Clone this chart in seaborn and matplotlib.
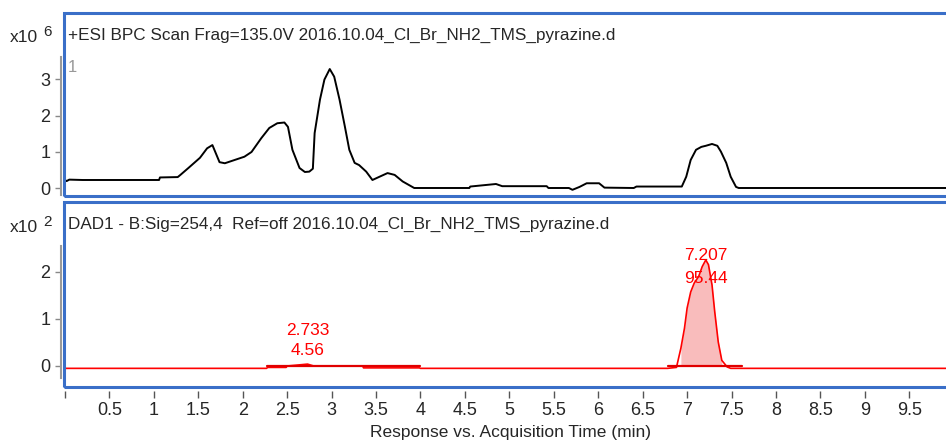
import numpy as np
import pandas as pd
import seaborn as sns
import matplotlib.pyplot as plt
from matplotlib.patches import Rectangle

# ---- data ----
# +ESI BPC trace, response in units of 10^6
bpc_time = [0.00, 0.02, 0.05, 0.20, 0.40, 0.60, 0.80, 1.06, 1.07, 1.27, 1.30, 1.39,
            1.52, 1.60, 1.66, 1.74, 1.80, 1.91, 2.02, 2.10, 2.21, 2.30, 2.39, 2.47,
            2.51, 2.56, 2.64, 2.70, 2.75, 2.79, 2.81, 2.87, 2.92, 2.98, 3.03, 3.09,
            3.15, 3.20, 3.26, 3.31, 3.39, 3.46, 3.54, 3.63, 3.71, 3.80, 3.93, 4.55,
            4.56, 4.85, 4.92, 5.42, 5.44, 5.67, 5.71, 5.79, 5.87, 6.01, 6.07, 6.40,
            6.43, 6.94, 6.99, 7.04, 7.10, 7.16, 7.21, 7.28, 7.34, 7.38, 7.44, 7.49,
            7.55, 7.58, 9.95]
bpc_signal = [0.23, 0.20, 0.24, 0.23, 0.23, 0.23, 0.23, 0.23, 0.30, 0.31, 0.37, 0.56,
              0.84, 1.10, 1.19, 0.72, 0.69, 0.78, 0.87, 1.00, 1.38, 1.66, 1.79, 1.81,
              1.69, 1.06, 0.56, 0.45, 0.46, 0.54, 1.52, 2.44, 2.99, 3.28, 3.07, 2.44,
              1.70, 1.06, 0.70, 0.64, 0.46, 0.23, 0.32, 0.42, 0.37, 0.19, 0.01, 0.01,
              0.05, 0.12, 0.06, 0.06, 0.01, 0.01, -0.04, 0.04, 0.14, 0.14, 0.02, 0.01,
              0.05, 0.05, 0.32, 0.78, 1.06, 1.14, 1.17, 1.22, 1.17, 1.01, 0.70, 0.32,
              0.04, 0.01, 0.01]

# DAD1 254 nm trace, response in units of 10^2
dad_time = [0.00, 2.27, 2.28, 2.49, 2.50, 2.73, 2.80, 3.35, 3.36, 3.99, 4.00, 6.78,
            6.88, 6.93, 6.97, 7.00, 7.04, 7.08, 7.13, 7.17, 7.21, 7.24, 7.28, 7.31,
            7.35, 7.39, 7.45, 7.49, 9.95]
dad_signal = [-0.05, -0.05, -0.03, -0.03, 0.00, 0.04, 0.00, 0.00, -0.04, -0.04, -0.05, -0.05,
              -0.03, 0.38, 0.80, 1.23, 1.57, 1.76, 1.90, 2.11, 2.25, 2.15, 1.72, 1.16,
              0.51, 0.12, -0.02, -0.05, -0.05]

# integrated peaks
peak_rt = [2.733, 7.207]
peak_area = [4.56, 95.44]
peak_start = [2.27, 6.78]
peak_end = [3.99, 7.62]
peak_base = [0.00, -0.01]

top_title = "+ESI BPC Scan Frag=135.0V 2016.10.04_Cl_Br_NH2_TMS_pyrazine.d"
bottom_title = "DAD1 - B:Sig=254,4  Ref=off 2016.10.04_Cl_Br_NH2_TMS_pyrazine.d"
x_label = "Response vs. Acquisition Time (min)"
x_ticks = np.arange(0, 10, 0.5)

bpc = pd.DataFrame({'time': bpc_time, 'signal': bpc_signal})
dad = pd.DataFrame({'time': dad_time, 'signal': dad_signal})

sns.set_style("white")
plt.rcParams['font.family'] = ['Liberation Sans', 'DejaVu Sans']

W, H = 946, 443
fig = plt.figure(figsize=(9.46, 4.43), dpi=100)


def px_axes(x0, y0, x1, y1):
    return fig.add_axes([x0 / W, 1 - y1 / H, (x1 - x0) / W, (y1 - y0) / H])


def fig_text(x, y, s, **kw):
    fig.text(x / W, 1 - y / H, s, **kw)


ax1 = px_axes(63.5, 13, 946, 196)
ax2 = px_axes(63.5, 201.5, 946, 386.5)

blue = '#3a6fc8'
for ax, ylim, gray_bounds, yt in [(ax1, (-0.21, 4.82), (-0.18, 3.61), [0, 1, 2, 3]),
                                  (ax2, (-0.435, 3.49), (-0.25, 2.54), [0, 1, 2])]:
    ax.set_xlim(-0.015, 9.912)
    ax.set_ylim(*ylim)
    ax.spines['top'].set_visible(False)
    ax.spines['right'].set_visible(False)
    ax.spines['bottom'].set_visible(False)
    ax.spines['left'].set_position(('outward', 1.5))
    ax.spines['left'].set_bounds(*gray_bounds)
    ax.spines['left'].set_color('#9a9a9a')
    ax.spines['left'].set_linewidth(1.5)
    ax.set_yticks(yt)
    ax.tick_params(axis='y', left=True, length=4, width=1, color='#888888',
                   pad=4, labelsize=13)
    ax.add_patch(Rectangle((0, 0), 1.02, 1, transform=ax.transAxes, fill=False,
                           ec=blue, lw=2.2, clip_on=False, zorder=5))

ax1.set_xticks([])

# top: BPC chromatogram
sns.lineplot(data=bpc, x='time', y='signal', ax=ax1, color='black', lw=1.4,
             sort=False, estimator=None)
ax1.set_xlabel('')
ax1.set_ylabel('')

# bottom: DAD chromatogram with integrated peaks
sns.lineplot(data=dad, x='time', y='signal', ax=ax2, color='red', lw=1.2,
             sort=False, estimator=None)
t = np.array(dad_time)
s = np.array(dad_signal)
for st, en, base in zip(peak_start, peak_end, peak_base):
    m = (t >= st) & (t <= en)
    ax2.fill_between(t[m], base, s[m], where=s[m] > base, color='#f9bcbc',
                     lw=0, zorder=1)
    ax2.plot([st, en], [base, base], color='#e00000', lw=1.6)

label_offsets = [(34, 14), (5, -18.5)]  # px above apex for rt / area
for rt, area, (o1, o2) in zip(peak_rt, peak_area, label_offsets):
    apex = np.interp(rt, t, s)
    ax2.annotate(f"{rt:.3f}", xy=(rt, apex), xytext=(0, o1 * 0.72),
                 textcoords='offset points', ha='center', va='center',
                 color='red', fontsize=12.5)
    ax2.annotate(f"{area:.2f}", xy=(rt, apex), xytext=(0, o2 * 0.72),
                 textcoords='offset points', ha='center', va='center',
                 color='red', fontsize=12.5)

ax2.spines['bottom'].set_position(('outward', 3.3))
ax2.set_xticks(x_ticks)
ax2.set_xticklabels(['' if v == 0 else f"{v:g}" for v in x_ticks])
ax2.tick_params(axis='x', bottom=True, length=5, width=1, color='#555555',
                pad=3, labelsize=13)
ax2.set_xlabel(x_label, fontsize=12.5)
ax2.xaxis.set_label_coords((510 - 63.5) / (946 - 63.5), (386.5 - 432) / 185)
ax2.xaxis.label.set_va('center')
ax2.set_ylabel('')

# panel titles and scale factors
fig_text(68, 35, top_title, va='center', fontsize=12.3)
fig_text(68, 224.5, bottom_title, va='center', fontsize=12.3)
fig_text(10, 37.5, 'x10', va='center', fontsize=12.5)
fig_text(43, 31.5, '6', va='center', fontsize=11)
fig_text(10, 227, 'x10', va='center', fontsize=12.5)
fig_text(43, 222, '2', va='center', fontsize=11)
fig_text(68, 67, '1', va='center', fontsize=12, color='#999999')

fig.savefig('out.png', dpi=100)
